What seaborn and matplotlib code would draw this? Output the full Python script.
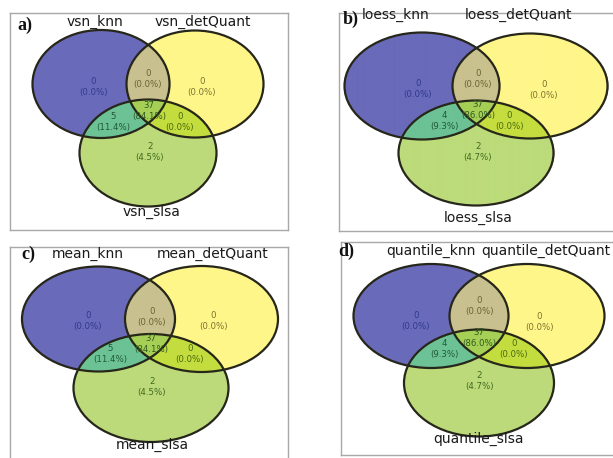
import numpy as np
import matplotlib
matplotlib.use("Agg")
import matplotlib.pyplot as plt
from matplotlib.patches import Ellipse
from matplotlib.colors import to_rgba
import seaborn as sns

sns.set_theme(style="white")
plt.rcParams["font.family"] = ["DejaVu Sans"]

# ---- data -------------------------------------------------------------
methods = ["vsn", "loess", "mean", "quantile"]
panel_tags = ["a)", "b)", "c)", "d)"]
set_names = ["knn", "detQuant", "slsa"]
# region order: knn only, detQuant only, slsa only,
#               knn&detQuant, knn&slsa, detQuant&slsa, all three
region_keys = ["k", "d", "s", "kd", "ks", "ds", "kds"]
counts_vsn = [0, 0, 2, 0, 5, 0, 37]
counts_loess = [0, 0, 2, 0, 4, 0, 37]
counts_mean = [0, 0, 2, 0, 5, 0, 37]
counts_quantile = [0, 0, 2, 0, 4, 0, 37]
all_counts = [counts_vsn, counts_loess, counts_mean, counts_quantile]

# ---- styling ----------------------------------------------------------
region_fill = {
    "k": "#6A6ABA", "d": "#FFF68A", "s": "#BCDB7A",
    "kd": "#C9C18E", "ks": "#6CC294", "ds": "#C5DD3E", "kds": "#A6CF55",
}
region_text = {
    "k": "#2E3A8C", "d": "#7A7230", "s": "#3F6A1E",
    "kd": "#6A6432", "ks": "#1E5A38", "ds": "#4A6A10", "kds": "#2F5A20",
}
membership_code = {"k": 1, "d": 2, "s": 4, "kd": 3, "ks": 5, "ds": 6, "kds": 7}

W, H = 613, 458

# layout of each panel in pixel coordinates
layouts = [
    dict(box=(10, 13, 288, 230),
         ell=[(101, 84, 137, 108), (195, 84, 137, 107), (148, 153, 137, 107)],
         tag=(25, 25),
         names=[(95, 22), (203, 22), (152, 212)],
         lab={"k": (93, 87), "d": (202, 87), "s": (150, 152), "kd": (148, 79),
              "ks": (113, 122), "ds": (180, 122), "kds": (149, 111)}),
    dict(box=(339, 13, 620, 231),
         ell=[(422, 86, 155, 107), (530, 86, 155, 105), (476, 153, 155, 105)],
         tag=(351, 19),
         names=[(396, 15), (519, 15), (478, 218)],
         lab={"k": (418, 89), "d": (544, 90), "s": (478, 152), "kd": (478, 79),
              "ks": (444, 121), "ds": (509, 121), "kds": (478, 110)}),
    dict(box=(10, 247, 288, 470),
         ell=[(98.5, 319, 153, 105), (201.5, 319, 153, 106), (151, 388, 155, 108)],
         tag=(28, 254),
         names=[(88, 254), (213, 254), (152, 445)],
         lab={"k": (88, 321), "d": (213, 321), "s": (152, 387), "kd": (152, 317),
              "ks": (110, 354), "ds": (190, 354), "kds": (151, 344)}),
    dict(box=(341, 242, 620, 455),
         ell=[(431, 316, 155, 104), (527, 316, 155, 104), (479, 383, 150, 107)],
         tag=(346, 251),
         names=[(431, 251), (546, 251), (479, 439)],
         lab={"k": (416, 321), "d": (539, 322), "s": (479, 381), "kd": (479, 306),
              "ks": (444, 349), "ds": (514, 349), "kds": (479, 338)}),
]

fig = plt.figure(figsize=(W / 100, H / 100), dpi=100)
fig.patch.set_facecolor("white")

lut = np.zeros((8, 4))
for key, code in membership_code.items():
    lut[code] = to_rgba(region_fill[key])

for method, tag, counts, lay in zip(methods, panel_tags, all_counts, layouts):
    x0, y0, x1, y1 = lay["box"]
    ax = fig.add_axes([x0 / W, 1 - y1 / H, (x1 - x0) / W, (y1 - y0) / H])
    ax.set_xlim(x0, x1)
    ax.set_ylim(y1, y0)
    ax.set_xticks([])
    ax.set_yticks([])
    for sp in ax.spines.values():
        sp.set_color("#A8A8A8")
        sp.set_linewidth(1.0)

    # region fill from set membership
    xs = np.linspace(x0, x1, int((x1 - x0) * 4))
    ys = np.linspace(y0, y1, int((y1 - y0) * 4))
    X, Y = np.meshgrid(xs, ys)
    code = np.zeros(X.shape, dtype=int)
    for bit, (cx, cy, ew, eh) in zip([1, 2, 4], lay["ell"]):
        inside = ((X - cx) / (ew / 2)) ** 2 + ((Y - cy) / (eh / 2)) ** 2 <= 1
        code += bit * inside
    ax.imshow(lut[code], extent=(x0, x1, y1, y0), origin="upper",
              interpolation="antialiased", aspect="auto", zorder=1)

    for (cx, cy, ew, eh) in lay["ell"]:
        ax.add_patch(Ellipse((cx, cy), ew, eh, fill=False, ec="#26261A",
                             lw=1.6, zorder=3))

    total = sum(counts)
    for key, c in zip(region_keys, counts):
        tx, ty = lay["lab"][key]
        ax.text(tx, ty, f"{c}\n({100 * c / total:.1f}%)", ha="center",
                va="center", fontsize=6.2, color=region_text[key],
                linespacing=1.2, zorder=4)

    for (nx, ny), sname in zip(lay["names"], set_names):
        ax.text(nx, ny, f"{method}_{sname}", ha="center", va="center",
                fontsize=10, color="#1A1A1A", zorder=4)

    ax.text(lay["tag"][0], lay["tag"][1], tag, ha="center", va="center",
            fontsize=13, family=["Liberation Serif"], fontweight="bold",
            color="#111111", zorder=4)

fig.savefig("out.png", dpi=100, facecolor="white")
